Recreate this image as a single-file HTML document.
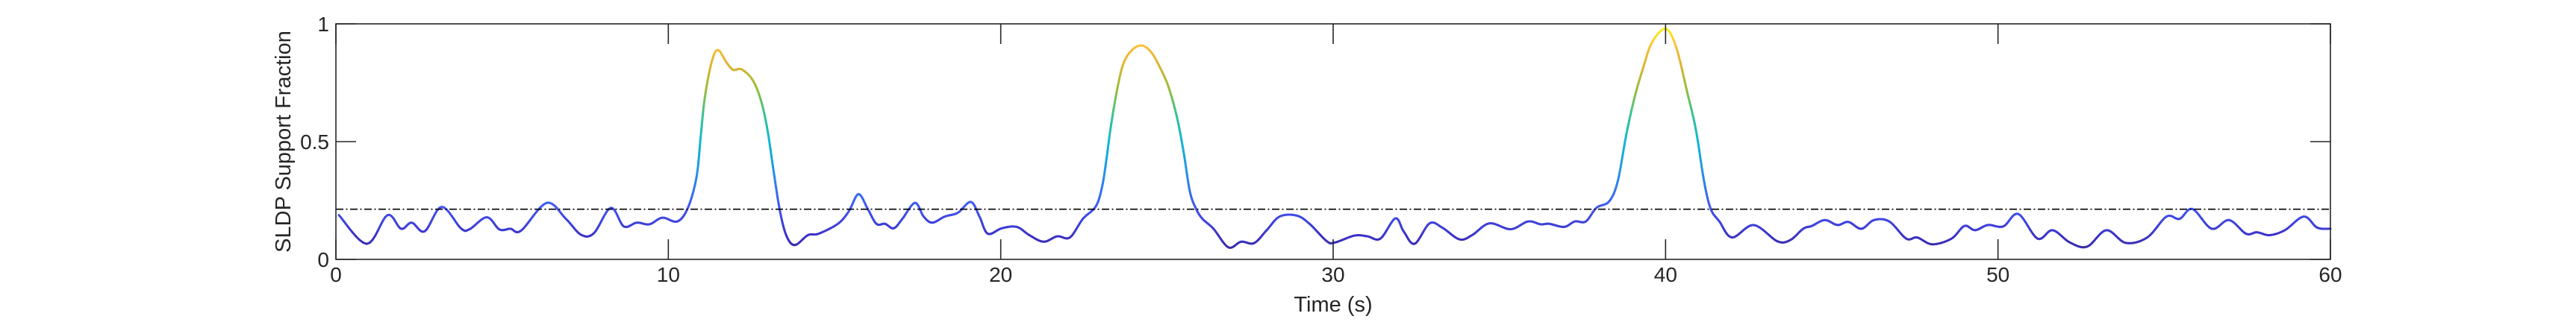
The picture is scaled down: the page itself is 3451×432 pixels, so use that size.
<!DOCTYPE html>
<html>
<head>
<meta charset="utf-8">
<style>
  html,body{margin:0;padding:0;background:#fff;}
  svg{display:block;}
  text{font-family:"Liberation Sans",Arial,sans-serif;fill:#262626;}
</style>
</head>
<body>
<svg id="chart" width="3451" height="432" viewBox="0 0 3451 432" xmlns="http://www.w3.org/2000/svg">
  <rect width="3451" height="432" fill="#fff"/>
  <g id="plot"></g>
  <g id="axes"></g>
</svg>
<script>
const times = [0.09,0.93,1.55,1.96,2.28,2.67,3.18,3.76,4.02,4.54,4.92,5.25,5.57,6.34,6.92,7.37,7.76,8.27,8.66,9.05,9.43,9.82,10.27,10.59,10.85,10.98,11.1,11.3,11.49,11.75,11.95,12.2,12.53,12.78,12.98,13.17,13.36,13.56,13.81,14.2,14.52,15.1,15.43,15.72,16.0,16.26,16.52,16.78,17.04,17.42,17.68,17.94,18.32,18.71,19.1,19.36,19.61,20.03,20.48,20.86,21.29,21.7,22.08,22.47,22.86,23.05,23.18,23.31,23.5,23.69,23.95,24.25,24.53,24.79,25.05,25.3,25.5,25.69,25.88,26.07,26.4,26.85,27.23,27.62,28.0,28.39,28.9,29.29,29.81,30.06,30.64,31.03,31.42,31.87,32.12,32.45,32.9,33.28,33.8,34.18,34.7,35.34,35.86,36.24,36.5,36.95,37.27,37.6,37.92,38.3,38.56,38.82,39.07,39.33,39.59,40.0,40.32,40.65,40.91,41.16,41.36,41.62,42.0,42.65,43.36,43.75,44.14,44.4,44.79,45.17,45.5,45.89,46.27,46.73,47.24,47.57,48.02,48.6,48.99,49.31,49.7,50.16,50.61,51.19,51.64,52.16,52.68,53.26,53.84,54.49,55.07,55.46,55.85,56.43,56.95,57.46,57.79,58.17,58.63,59.2,59.6,60.0];
const values = [0.188,0.066,0.188,0.13,0.156,0.119,0.223,0.132,0.128,0.179,0.127,0.13,0.122,0.24,0.172,0.105,0.111,0.219,0.14,0.156,0.149,0.177,0.161,0.219,0.351,0.531,0.689,0.836,0.889,0.836,0.805,0.807,0.763,0.678,0.552,0.372,0.204,0.098,0.061,0.103,0.109,0.151,0.204,0.277,0.214,0.151,0.151,0.132,0.172,0.24,0.182,0.156,0.182,0.198,0.244,0.182,0.109,0.132,0.138,0.103,0.075,0.098,0.093,0.172,0.225,0.309,0.425,0.562,0.72,0.831,0.889,0.908,0.879,0.815,0.731,0.604,0.457,0.288,0.214,0.172,0.13,0.051,0.075,0.069,0.124,0.182,0.186,0.151,0.077,0.072,0.101,0.098,0.088,0.174,0.119,0.066,0.153,0.135,0.085,0.103,0.153,0.128,0.161,0.149,0.151,0.138,0.161,0.161,0.219,0.246,0.331,0.531,0.689,0.815,0.921,0.979,0.9,0.71,0.552,0.33,0.214,0.161,0.093,0.146,0.077,0.082,0.13,0.142,0.167,0.146,0.159,0.13,0.167,0.161,0.088,0.093,0.064,0.088,0.142,0.124,0.146,0.14,0.193,0.088,0.124,0.072,0.054,0.124,0.07,0.093,0.182,0.172,0.214,0.13,0.167,0.109,0.115,0.103,0.124,0.182,0.135,0.13];
const threshold = [0.213];
const xTicks = [0,10,20,30,40,50,60];
const yTicks = [0,0.5,1];
const yTickLabels = ["0","0.5","1"];

const NS = "http://www.w3.org/2000/svg";
const L = 450, R = 3122, T = 32, B = 348;
const xScale = t => L + (t - 0) / 60 * (R - L);
const yScale = v => B - v * (B - T);

function mk(tag, attrs, parent) {
  const e = document.createElementNS(NS, tag);
  for (const k in attrs) e.setAttribute(k, attrs[k]);
  parent.appendChild(e);
  return e;
}
const stops = [[0,[53,42,135]],[0.1,[60,50,200]],[0.22,[65,85,240]],[0.35,[40,140,235]],[0.5,[15,185,210]],[0.62,[60,195,140]],[0.72,[150,190,60]],[0.82,[220,180,50]],[0.9,[248,190,60]],[1.0,[249,250,20]]];
function color(v) {
  v = Math.max(0, Math.min(1, v));
  for (let i = 1; i < stops.length; i++) {
    if (v <= stops[i][0]) {
      const a = stops[i-1], b = stops[i], f = (v - a[0]) / (b[0] - a[0]);
      const c = a[1].map((x, j) => Math.round(x + (b[1][j] - x) * f));
      return `rgb(${c[0]},${c[1]},${c[2]})`;
    }
  }
  return "rgb(249,250,20)";
}

const plot = document.getElementById("plot");
const axes = document.getElementById("axes");

// dense catmull-rom sampling
const pts = [];
for (let i = 0; i < times.length - 1; i++) {
  const p0 = i > 0 ? i - 1 : i, p3 = i + 2 < times.length ? i + 2 : i + 1;
  const n = 8;
  for (let s = 0; s < n; s++) {
    const u = s / n, u2 = u*u, u3 = u2*u;
    const cr = (a, b, c, d) => 0.5 * (2*b + (-a + c)*u + (2*a - 5*b + 4*c - d)*u2 + (-a + 3*b - 3*c + d)*u3);
    pts.push([cr(times[p0],times[i],times[i+1],times[p3]), cr(values[p0],values[i],values[i+1],values[p3])]);
  }
}
pts.push([times[times.length-1], values[values.length-1]]);

const curve = mk("g", {}, plot);


for (let i = 0; i < pts.length - 1; i++) {
  const a = pts[i], b = pts[i+1];
  const seg = mk("line", {x1: xScale(a[0]), y1: yScale(a[1]), x2: xScale(b[0]), y2: yScale(b[1]),
    stroke: color((a[1]+b[1])/2), "stroke-width": 3, "stroke-linecap": "round"}, curve);
  
  
}

const th = mk("line", {x1: L, x2: R, y1: yScale(threshold[0]), y2: yScale(threshold[0]), stroke: "#000", "stroke-width": 1.6, "stroke-dasharray": "10 3.5 2 3.5"}, plot);



const box = mk("rect", {x: L, y: T, width: R - L, height: B - T, fill: "none", stroke: "#262626", "stroke-width": 1.6}, axes);



xTicks.forEach(t => {
  const x = xScale(t);
  const tk = mk("path", {d: `M${x},${B}V${B-27}M${x},${T}V${T+27}`, stroke: "#262626", "stroke-width": 1.6}, axes);
  
  
  const lb = mk("text", {x: x, y: 378, "font-size": 28, "text-anchor": "middle"}, axes);
  lb.textContent = String(t);
  
  
});
yTicks.forEach((v, i) => {
  const y = yScale(v);
  const tk = mk("path", {d: `M${L},${y}H${L+27}M${R},${y}H${R-27}`, stroke: "#262626", "stroke-width": 1.6}, axes);
  
  
  const lb = mk("text", {x: 441, y: y + 10, "font-size": 28, "text-anchor": "end"}, axes);
  lb.textContent = yTickLabels[i];
  
  
});
const xl = mk("text", {x: (L+R)/2, y: 418, "font-size": 29, "text-anchor": "middle"}, axes);
xl.textContent = "Time (s)";


const yl = mk("text", {x: 0, y: 0, "font-size": 29, "text-anchor": "middle", transform: `translate(389,${(T+B)/2}) rotate(-90)`}, axes);
yl.textContent = "SLDP Support Fraction";


</script>
</body>
</html>
